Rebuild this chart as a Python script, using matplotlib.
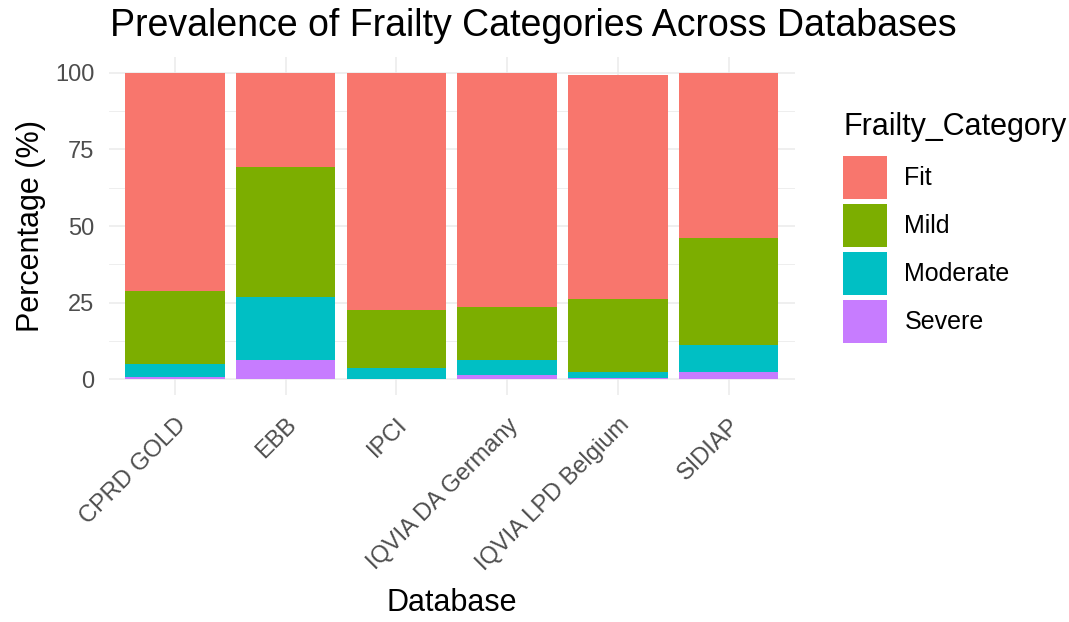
import numpy as np
import matplotlib
matplotlib.use("Agg")
import matplotlib.pyplot as plt
from matplotlib.patches import Patch
from matplotlib.transforms import ScaledTranslation

plt.rcParams["font.family"] = ["Liberation Sans", "DejaVu Sans"]

databases = ["CPRD GOLD", "EBB", "IPCI", "IQVIA DA Germany", "IQVIA LPD Belgium", "SIDIAP"]
# percentages per category (stacked bottom -> top: Severe, Moderate, Mild, Fit)
severe = [0.8, 6.3, 0.2, 1.5, 0.3, 2.3]
moderate = [4.2, 20.5, 3.4, 4.8, 2.0, 8.8]
mild = [23.9, 42.4, 19.1, 17.2, 23.9, 34.9]
fit = [71.1, 30.8, 77.3, 76.5, 73.1, 54.0]

categories = ["Fit", "Mild", "Moderate", "Severe"]
COL = {"Fit": "#F8766D", "Mild": "#7CAE00", "Moderate": "#00BFC4", "Severe": "#C77CFF"}

fig = plt.figure(figsize=(10.69, 6.22), dpi=100)
ax = fig.add_axes([0.1015, 0.3654, 0.6422, 0.5423])

x = np.arange(1, len(databases) + 1)
bottom = np.zeros(len(databases))
for name, vals in [("Severe", severe), ("Moderate", moderate), ("Mild", mild), ("Fit", fit)]:
    ax.bar(x, vals, width=0.9, bottom=bottom, color=COL[name], zorder=2)
    bottom += np.array(vals)

ax.set_xlim(0.4, len(databases) + 0.6)
ax.set_ylim(-5, 105)
ax.set_yticks([0, 25, 50, 75, 100])
ax.set_yticks([12.5, 37.5, 62.5, 87.5], minor=True)
ax.set_xticks(x)
ax.set_xticklabels(databases, rotation=45, ha="right", va="top", rotation_mode="anchor",
                   fontsize=17, color="#4D4D4D")
for lab in ax.get_xticklabels():
    lab.set_transform(lab.get_transform() + ScaledTranslation(6 / 72, 0, fig.dpi_scale_trans))
ax.tick_params(axis="y", labelsize=17, labelcolor="#4D4D4D", pad=10)
ax.tick_params(axis="x", pad=14)
ax.tick_params(which="both", length=0)
ax.grid(which="major", color="#EBEBEB", lw=1.1, zorder=0)
ax.grid(which="minor", axis="y", color="#EBEBEB", lw=0.6, zorder=0)
for s in ax.spines.values():
    s.set_visible(False)

ax.set_xlabel("Database", fontsize=22, labelpad=9)
ax.set_ylabel("Percentage (%)", fontsize=22, labelpad=7)
fig.text((108 + 958) / 2 / 1069, 0.959, "Prevalence of Frailty Categories Across Databases",
         ha="center", va="center", fontsize=27)

handles = [Patch(facecolor=COL[c], label=c) for c in categories]
leg = fig.legend(handles=handles, loc="upper left", bbox_to_anchor=(0.789, 0.82),
                 frameon=False, fontsize=18, title="Frailty_Category", title_fontsize=22,
                 handlelength=1.76, handleheight=2.27, labelspacing=0.2, handletextpad=0.68,
                 borderpad=0, borderaxespad=0)
leg._legend_box.align = "left"
leg._legend_box.sep = 10

fig.savefig("out.png", dpi=100)
